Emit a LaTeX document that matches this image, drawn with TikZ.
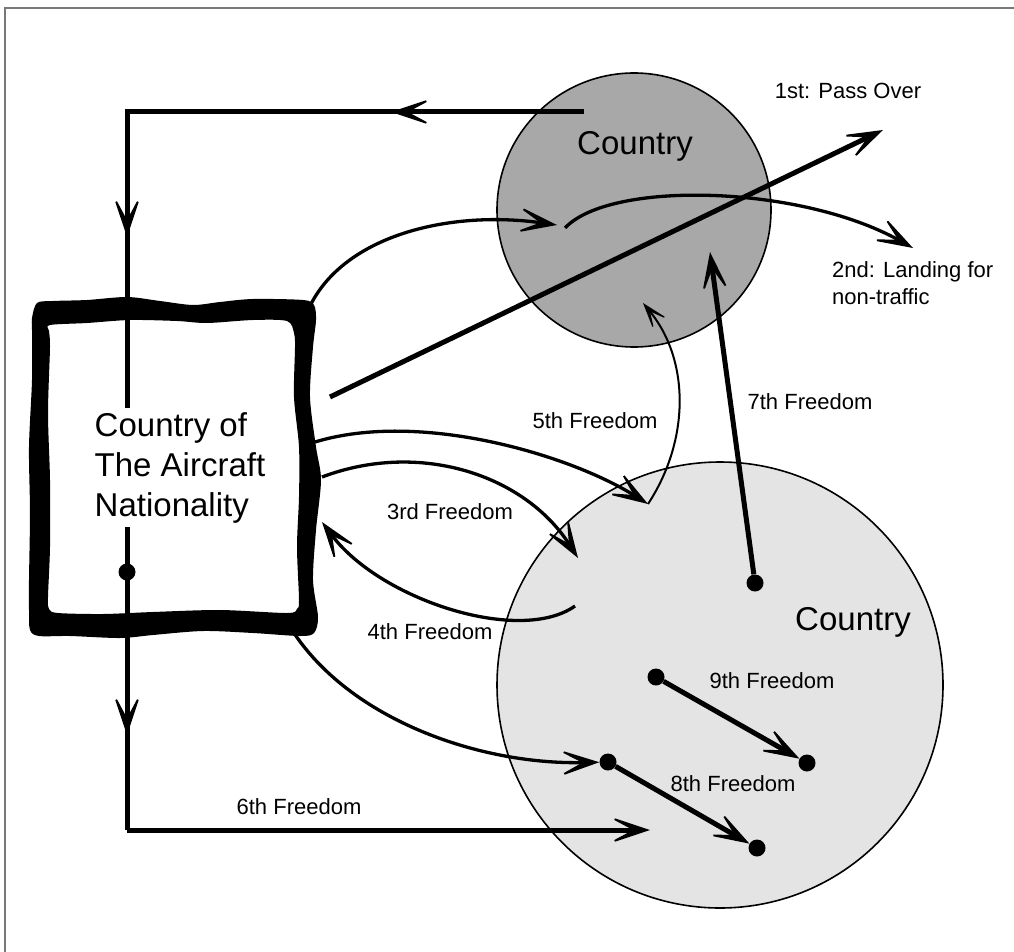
\documentclass[tikz,border=0pt]{standalone}
\usepackage{fontspec}
\setmainfont{Liberation Sans}
\usetikzlibrary{arrows.meta}
\definecolor{darkland}{RGB}{168,168,168}
\definecolor{lightland}{RGB}{228,228,228}
\definecolor{framegray}{RGB}{120,120,120}

\begin{document}
\begin{tikzpicture}[x=1pt,y=-1pt,
  fbarb/.tip={Stealth[length=45pt,width=30pt,inset=28pt,line width=1.8pt]},
  sbarb/.tip={Stealth[length=32pt,width=21pt,inset=21pt,line width=1.2pt]},
  route/.style={line width=5pt,-fbarb},
  arcline/.style={line width=3.3pt,-fbarb},
  lbl/.style={font=\fontsize{22}{27}\selectfont, inner sep=0pt},
  bigtext/.style={font=\fontsize{33}{40}\selectfont, inner sep=0pt},
  land/.style={circle, draw, line width=1.6pt, inner sep=0pt},
  stopdot/.style={circle, fill=black, minimum size=17pt, inner sep=0pt},
]
\useasboundingbox (0,0) rectangle (1014,952);
\fill[white] (0,0) rectangle (1014,952);
\draw[framegray, line width=2pt] (5,952) -- (5,8) -- (1014,8);

% the two foreign countries
\node[land, fill=darkland, minimum size=274pt] (upper) at (634,210) {};
\node[land, fill=lightland, minimum size=446pt] (lower) at (720,685) {};
\node[bigtext] (upperlbl) at (635,146) {Country};
\node[bigtext] (lowerlbl) at (853,622) {Country};

% home country: hand-drawn thick frame
\fill[even odd rule]
  plot[smooth cycle, tension=0.5] coordinates {
    (32,318) (37,303) (53,301) (87,300) (127,297) (160,301) (193,305) (220,302)
    (253,299) (303,300) (314,305) (316,320) (313,347) (310,397) (316,447) (321,480)
    (316,530) (313,580) (318,617) (314,633) (300,636) (253,633) (203,631) (153,635)
    (120,638) (70,636) (39,636) (30,630) (29,610) (29,580) (30,513) (29,447)
    (32,380) (32,330)}
  plot[smooth cycle, tension=0.5] coordinates {
    (50,325) (87,323) (130,320) (177,321) (207,323) (253,320) (287,321) (294,333)
    (295,347) (294,397) (299,447) (299,497) (297,547) (299,600) (297,609) (287,613)
    (220,610) (153,612) (103,614) (58,613) (49,609) (48,597) (50,547) (50,480)
    (48,413) (50,347) (49,331)};
\node[bigtext, align=left] (home) at (180,468) {Country of\\The Aircraft\\Nationality};

% loop through the home country (6th freedom)
\coordinate (loopstart) at (584,112);
\coordinate (looptipa) at (391,112);
\coordinate (loopcornera) at (127,112);
\coordinate (looptipb) at (127,237);
\coordinate (loopgap) at (127,408);
\coordinate (loopresume) at (127,527);
\coordinate (looptipc) at (127,735);
\coordinate (loopcornerb) at (127,830);
\coordinate (looptipd) at (650,830);
\draw[line width=5pt] (loopstart) -- (loopcornera) -- (loopgap);
\draw[route] (loopstart) -- (looptipa);
\draw[route] (loopcornera) -- (looptipb);
\draw[line width=5pt] (loopresume) -- (loopcornerb);
\draw[route] (loopresume) -- (looptipc);
\draw[route] (loopcornerb) -- (looptipd);
\node[stopdot] (origin) at (127,572) {};

% 1st: pass over
\coordinate (passa) at (330,397);
\coordinate (passb) at (883,130);
\draw[route] (passa) -- (passb);

% 2nd: landing for non-traffic
\coordinate (landa) at (310,306);
\coordinate (landb) at (557,225);
\coordinate (landc) at (565,228);
\coordinate (landd) at (913,248);
\draw[arcline] (landa) .. controls (345,235) and (450,210) .. (landb);
\draw[arcline] (landc) .. controls (610,180) and (800,185) .. (landd);

% 3rd, 4th, 5th freedoms
\coordinate (thirda) at (322,477);
\coordinate (thirdb) at (578,558);
\draw[arcline] (thirda) .. controls (420,440) and (525,475) .. (thirdb);
\coordinate (fourtha) at (575,606);
\coordinate (fourthb) at (322,522);
\draw[arcline] (fourtha) .. controls (520,645) and (380,600) .. (fourthb);
\coordinate (fiftha) at (315,442);
\coordinate (fifthb) at (648,504);
\coordinate (fifthc) at (643,303);
\draw[arcline] (fiftha) .. controls (420,410) and (570,455) .. (fifthb);
\draw[line width=2pt, -sbarb] (fifthb) .. controls (690,440) and (690,360) .. (fifthc);

% stops inside the lower country
\node[stopdot] (seven) at (755,583) {};
\node[stopdot] (eighta) at (608,762) {};
\node[stopdot] (eightb) at (757,848) {};
\node[stopdot] (ninea) at (656,677) {};
\node[stopdot] (nineb) at (807,763) {};

\coordinate (boxcorner) at (292,630);
\draw[arcline] (boxcorner) .. controls (350,720) and (480,765) .. (eighta);
\coordinate (seventip) at (710,252);
\draw[route] (seven) -- (seventip);
\draw[route] (eighta) -- (eightb);
\draw[route] (ninea) -- (nineb);

% labels
\node[lbl] (firstlbl) at (848,91) {1st: Pass Over};
\node[lbl, align=left, anchor=north west] (secondlbl) at (832,261) {2nd: Landing for\\non-traffic};
\node[lbl] (thirdlbl) at (450,512) {3rd Freedom};
\node[lbl] (fourthlbl) at (430,632) {4th Freedom};
\node[lbl] (fifthlbl) at (595,421) {5th Freedom};
\node[lbl] (sixthlbl) at (299,807) {6th Freedom};
\node[lbl] (seventhlbl) at (810,402) {7th Freedom};
\node[lbl] (eighthlbl) at (733,784) {8th Freedom};
\node[lbl] (ninthlbl) at (772,681) {9th Freedom};
\end{tikzpicture}
\end{document}
